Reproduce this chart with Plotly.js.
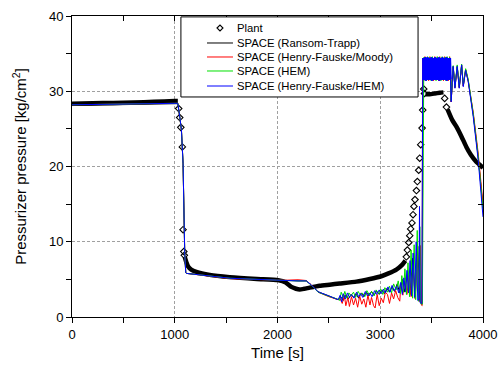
<!DOCTYPE html>
<html>
<head>
<meta charset="utf-8">
<script src="https://cdn.plot.ly/plotly-3.0.1.min.js"></script>
<style>html,body{margin:0;padding:0;background:#fff;}#chart{width:498px;height:369px;}</style>
</head>
<body>
<div id="chart"></div>
<script>
// ---- Plant (measured) data ----
// dense sampling (drawn as a thick band), null = gap
var plantBandT = [0,200,400,600,800,1000,1030,null,1097,1115,1130,1160,1210,1340,1535,1800,2005,2080,2135,2180,2216,2260,2313,2410,2508,2605,2768,2900,2995,3080,3157,3210,3245,null,3440,3480,3530,3580,3615,null,3655,3700,3741,3790,3838,3880,3936,3970,4000];
var plantBandP = [28.35,28.4,28.45,28.5,28.6,28.7,28.7,null,8.0,7.2,6.7,6.3,6.0,5.6,5.3,5.05,4.9,4.6,4.0,3.75,3.65,3.75,3.9,4.15,4.3,4.45,4.7,5.05,5.35,5.8,6.3,6.9,7.5,null,29.6,29.6,29.7,29.8,29.85,null,27.6,26.2,25.3,24.0,22.6,21.6,20.6,20.2,19.8];
// sparse samples (individual diamonds)
var plantMarkT = [1038,1048,1059,1074,1081,1088,1093,3254,3264,3277,3287,3296,3309,3319,3328,3338,3352,3361,3374,3384,3394,3407,3413,3423,3430,3627,3644];
var plantMarkP = [27.7,26.5,25.2,22.6,11.6,8.7,8.2,8.0,8.9,9.9,10.8,11.7,12.5,13.6,14.7,15.6,16.8,18.0,19.5,21.1,22.9,25.1,27.5,30.3,29.7,29.05,27.9];

// ---- SPACE calculations ----
var spaceEarlyT = [0,1030,1050,1065,1081,1097,1107,1113,1540,1990,2100,2200,2280,2330,2395,2500,2590];
var blackEarlyP = [28.1,28.35,26.4,24.8,20.3,8.5,5.9,5.8,5.15,4.9,4.85,4.8,4.8,4.25,3.35,2.8,2.3];
var redEarlyP   = [28.2,28.4,26.5,24.9,20.4,8.5,5.9,5.8,5.1,4.9,4.9,4.95,4.85,4.25,3.3,2.7,2.3];
var greenEarlyP = [28.2,28.4,26.5,24.9,20.4,8.5,5.9,5.8,5.15,4.9,4.85,4.8,4.8,4.2,3.3,2.75,2.35];
var blueEarlyP  = [28.2,28.4,26.5,24.9,20.4,8.5,5.9,5.8,5.15,4.9,4.85,4.8,4.8,4.25,3.35,2.8,2.3];

var blackNoiseT = [2615,2640,2665,2690,2715,2740,2765,2790,2815,2840,2865,2890,2915,2940,2965,2990,3015,3040,3065,3090,3115,3140,3165,3190,3215,3240,3265,3290,3315,3340,3365,3385,3395,3408,3416];
var blackNoiseP = [2.7,2.2,2.9,2.4,3.0,2.6,3.1,2.5,3.2,2.7,3.3,2.8,3.4,2.9,3.4,3.0,3.6,3.1,3.8,3.3,4.0,3.4,4.4,3.2,5.0,3.3,6.0,3.0,7.8,2.6,9.4,2.1,1.9,1.8,34.4];
var redNoiseT = [2610,2630,2650,2665,2685,2700,2720,2740,2760,2780,2800,2820,2840,2860,2880,2900,2915,2935,2950,2970,2990,3010,3030,3050,3070,3090,3110,3130,3150,3170,3190,3200,3220,3240,3260,3280,3300,3320,3340,3360,3375,3390,3400,3408,3412];
var redNoiseP = [2.4,1.8,2.9,1.5,2.6,1.4,2.7,1.6,2.5,1.3,2.8,1.7,2.4,1.3,2.9,1.6,2.6,1.5,1.2,3.0,1.5,2.5,1.9,3.3,3.0,1.8,3.2,2.4,3.5,2.6,2.1,4.2,2.9,4.8,3.0,5.6,2.7,6.8,2.4,8.2,2.1,9.5,1.6,1.5,34.4];
var greenNoiseT = [2605,2620,2640,2655,2675,2695,2715,2740,2760,2785,2805,2825,2850,2870,2895,2915,2940,2960,2985,3005,3025,3045,3070,3090,3110,3130,3155,3175,3195,3210,3225,3240,3255,3270,3285,3300,3315,3330,3345,3360,3372,3385,3392,3410,3424];
var greenNoiseP = [2.2,3.3,2.6,3.4,2.5,3.2,2.8,3.3,2.6,3.4,2.9,3.2,2.7,3.5,2.9,3.4,2.8,3.6,3.1,3.7,3.0,3.9,3.3,4.1,3.2,4.4,3.6,4.8,3.1,5.5,3.3,6.4,3.0,7.2,2.7,8.9,2.5,9.6,2.3,11.5,2.1,12.0,1.8,1.7,34.5];
var blueNoiseT = [2610,2625,2640,2660,2680,2700,2720,2745,2770,2790,2810,2830,2855,2875,2900,2920,2945,2965,2990,3010,3030,3050,3075,3095,3115,3135,3160,3180,3200,3215,3230,3245,3260,3275,3290,3305,3320,3335,3350,3365,3376,3382,3388,3405,3414];
var blueNoiseP = [2.9,2.0,3.1,2.4,3.2,2.6,3.0,2.5,3.3,2.7,3.1,2.6,3.4,2.8,3.2,2.7,3.5,3.0,3.6,3.1,3.7,3.2,4.0,3.3,4.2,3.5,4.1,3.2,4.6,3.0,5.2,3.4,6.2,3.2,7.5,2.8,8.5,2.6,10.0,2.2,2.4,14.7,1.9,1.8,34.4];

// high-frequency oscillation after re-pressurisation
var blockT = [3420,3426,3432,3438,3444,3450,3456,3462,3468,3474,3480,3486,3492,3498,3504,3510,3516,3522,3528,3534,3540,3546,3552,3558,3564,3570,3576,3582,3588,3594,3600,3606,3612,3618,3624,3630,3636,3642,3648,3654,3660,3666,3672,3678,3684];
var blueBlockP = [31.5,34.4,31.6,34.5,31.4,34.3,31.6,34.5,31.5,34.4,31.6,34.3,31.5,34.5,31.4,34.4,31.6,34.3,31.5,34.5,31.6,34.4,31.5,34.3,31.6,34.5,31.4,34.4,31.5,34.3,31.6,34.5,31.5,34.4,31.6,34.3,31.5,34.5,31.4,34.4,31.6,34.3,31.5,34.4,31.6];
var blockTc = [3423,3435,3447,3459,3471,3483,3495,3507,3519,3531,3543,3555,3567,3579,3591,3603,3615,3627,3639,3651,3663,3675,3687];
var blackBlockP = [31.6,34.4,31.5,34.4,31.6,34.4,31.5,34.4,31.6,34.4,31.5,34.4,31.6,34.4,31.5,34.4,31.6,34.4,31.5,34.4,31.6,34.4,31.5];
var redBlockP   = [31.4,34.6,31.5,34.5,31.4,34.6,31.5,34.5,31.4,34.6,31.5,34.5,31.4,34.6,31.5,34.5,31.4,34.6,31.5,34.5,31.4,34.6,31.5];
var greenBlockP = [31.5,34.5,31.4,34.6,31.5,34.5,31.4,34.6,31.5,34.5,31.4,34.6,31.5,34.5,31.4,34.6,31.5,34.5,31.4,34.6,31.5,34.5,31.4];

var postT = [3690,3710,3727,3749,3769,3792,3808,3831,3856,3905,3953,4000];
var blackPostP = [28.6,33.3,30.5,33.3,30.5,33.5,30.7,32.8,31.4,26.9,21.3,14.5];
var redPostP   = [28.6,33.2,30.5,33.2,30.5,33.4,30.7,32.9,31.4,27.2,21.8,15.0];
var greenPostP = [28.7,33.4,30.6,33.5,30.6,33.6,30.9,33.0,31.6,27.0,21.4,14.2];
var bluePostP  = [28.6,33.3,30.4,33.3,30.4,33.5,30.6,32.8,31.3,26.6,20.9,13.3];

var legendNames = ['Plant','SPACE (Ransom-Trapp)','SPACE (Henry-Fauske/Moody)','SPACE (HEM)','SPACE (Henry-Fauske/HEM)'];
var seriesColors = ['#000000','#ff0000','#00e000','#0000ff'];

var FONT = '"Liberation Sans", Arial, sans-serif';

function series(name, color, nT, nP, bT, bP, pP, eP) {
  return {
    type: 'scatter', mode: 'lines', name: name, showlegend:false,
    x: spaceEarlyT.concat(nT, bT, postT),
    y: eP.concat(nP, bP, pP),
    line: {color: color, width: 1, simplify:false}
  };
}

var traces = [
  {type:'scatter', mode:'lines', x: plantBandT, y: plantBandP, connectgaps:false,
   line:{color:'#000', width:4.5, shape:'spline', smoothing:0.5}, showlegend:false, hoverinfo:'skip'},
  {type:'scatter', mode:'markers', name:legendNames[0], x: plantMarkT, y: plantMarkP, showlegend:false,
   marker:{symbol:'diamond-open', size:5, color:'#000', line:{width:1.1, color:'#000'}}},
  series(legendNames[1], seriesColors[0], blackNoiseT, blackNoiseP, blockTc, blackBlockP, blackPostP, blackEarlyP),
  series(legendNames[2], seriesColors[1], redNoiseT, redNoiseP, blockTc, redBlockP, redPostP, redEarlyP),
  series(legendNames[3], seriesColors[2], greenNoiseT, greenNoiseP, blockTc, greenBlockP, greenPostP, greenEarlyP),
  series(legendNames[4], seriesColors[3], blueNoiseT, blueNoiseP, blockT, blueBlockP, bluePostP, blueEarlyP),
  // the fast oscillation of the blue run is so dense it prints as a solid block
  {type:'scatter', mode:'lines', x: blockT, y: blueBlockP, showlegend:false, hoverinfo:'skip',
   line:{color:seriesColors[3], width:2.4, simplify:false}},
  {type:'scatter', mode:'lines', x:[], y:[], xaxis:'x2', yaxis:'y2', showlegend:false, hoverinfo:'skip'}
];

// ---- hand-built legend box (compact rows as in the original figure) ----
var L = {x0:0.265, x1:0.842, y0:0.731, y1:0.997, symX0:0.3285, symX1:0.3917, textX:0.3966,
         rows:[0.9601,0.9103,0.8638,0.8173,0.7674]};
var shapes = [
  {type:'rect', xref:'paper', yref:'paper', x0:L.x0, x1:L.x1, y0:L.y0, y1:L.y1,
   line:{color:'#000', width:1}, fillcolor:'#fff', layer:'above'}
];
var annotations = [];
(function(){
  var cx = (L.symX0+L.symX1)/2, cy = L.rows[0], dx = 3/411, dy = 3/301;
  shapes.push({type:'path', xref:'paper', yref:'paper', layer:'above',
    path:'M '+(cx-dx)+' '+cy+' L '+cx+' '+(cy+dy)+' L '+(cx+dx)+' '+cy+' L '+cx+' '+(cy-dy)+' Z',
    line:{color:'#000', width:1.1}, fillcolor:'rgba(0,0,0,0)'});
})();
for (var i = 0; i < legendNames.length; i++) {
  if (i > 0) {
    shapes.push({type:'line', xref:'paper', yref:'paper', layer:'above',
      x0:L.symX0, x1:L.symX1, y0:L.rows[i], y1:L.rows[i], line:{color:seriesColors[i-1], width:1}});
  }
  annotations.push({xref:'paper', yref:'paper', x:L.textX, y:L.rows[i], xanchor:'left', yanchor:'middle',
    text:legendNames[i], showarrow:false, font:{family:FONT, size:11.3, color:'#000'}});
}

var axBase = {
  showline:true, linecolor:'#000', linewidth:1, zeroline:false,
  tickcolor:'#000', ticklen:5, tickwidth:1,
  tickfont:{family:FONT, size:13, color:'#000'}
};

var layout = {
  width:498, height:369,
  margin:{l:72, r:15, t:16, b:52},
  paper_bgcolor:'#fff', plot_bgcolor:'#fff',
  font:{family:FONT, color:'#000'},
  showlegend:false,
  shapes: shapes,
  annotations: annotations,
  xaxis: Object.assign({}, axBase, {
    range:[0,4000], dtick:1000, tick0:0, ticks:'outside',
    showgrid:true, gridcolor:'#a0a0a0', griddash:'3px,2px', gridwidth:1,
    minor:{dtick:500, ticks:'outside', ticklen:5, tickcolor:'#000', showgrid:false},
    title:{text:'Time [s]', font:{family:FONT, size:15, color:'#000'}, standoff:6}
  }),
  yaxis: Object.assign({}, axBase, {
    range:[0,40], dtick:10, tick0:0, ticks:'outside',
    showgrid:true, gridcolor:'#a0a0a0', griddash:'3px,2px', gridwidth:1,
    minor:{dtick:5, ticks:'outside', ticklen:5, tickcolor:'#000', showgrid:false},
    title:{text:'Pressurizer pressure [kg/cm<sup>2</sup>]', font:{family:FONT, size:15, color:'#000'}, standoff:18}
  }),
  xaxis2: Object.assign({}, axBase, {
    overlaying:'x', side:'top', anchor:'y2', range:[0,4000], dtick:1000, tick0:0,
    ticks:'inside', showticklabels:false, showgrid:false,
    minor:{dtick:500, ticks:'inside', ticklen:5, tickcolor:'#000', showgrid:false}
  }),
  yaxis2: Object.assign({}, axBase, {
    overlaying:'y', side:'right', anchor:'x2', range:[0,40], dtick:10, tick0:0,
    ticks:'inside', showticklabels:false, showgrid:false,
    minor:{dtick:5, ticks:'inside', ticklen:5, tickcolor:'#000', showgrid:false}
  })
};

Plotly.newPlot('chart', traces, layout, {staticPlot:true, displayModeBar:false});
</script>
</body>
</html>
